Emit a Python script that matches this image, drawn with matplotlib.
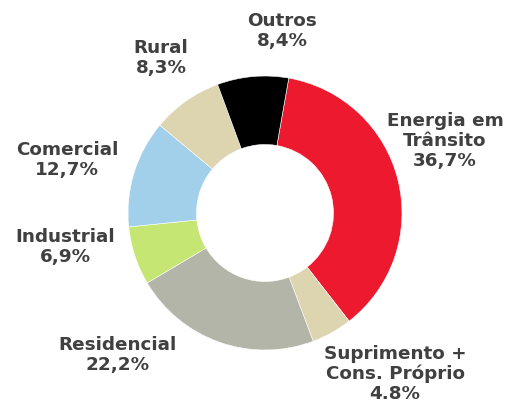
import matplotlib
matplotlib.use("Agg")
import matplotlib.pyplot as plt

categories = ["Energia em\nTrânsito", "Suprimento +\nCons. Próprio", "Residencial",
              "Industrial", "Comercial", "Rural", "Outros"]
values = [36.7, 4.8, 22.2, 6.9, 12.7, 8.3, 8.4]
value_labels = ["36,7%", "4.8%", "22,2%", "6,9%", "12,7%", "8,3%", "8,4%"]
colors = ["#ED1A2F", "#DDD4B0", "#B4B5A9", "#C6E674", "#A2D0EB", "#DDD4B0", "#000000"]

W, H = 505, 403
fig = plt.figure(figsize=(W / 100, H / 100), dpi=100)
cx, cy, r = 265, 213, 137
ax = fig.add_axes([(cx - r) / W, (H - cy - r) / H, 2 * r / W, 2 * r / H])
ax.pie(values, colors=colors, startangle=80, counterclock=False, radius=1.0,
       wedgeprops=dict(width=0.5, edgecolor="white", linewidth=0.4))
ax.set_xlim(-1, 1)
ax.set_ylim(-1, 1)
ax.axis("off")

# label centres in pixel positions
label_pos = [(445, 141), (395, 374), (118, 355), (65, 247), (67, 160), (161, 58), (282, 31)]
for cat, vl, (px, py) in zip(categories, value_labels, label_pos):
    fig.text(px / W, 1 - py / H, cat + "\n" + vl, ha="center", va="center",
             fontsize=13.2, fontweight="bold", color="#404040", linespacing=1.15,
             family="DejaVu Sans")

fig.savefig("out.png", dpi=100)
